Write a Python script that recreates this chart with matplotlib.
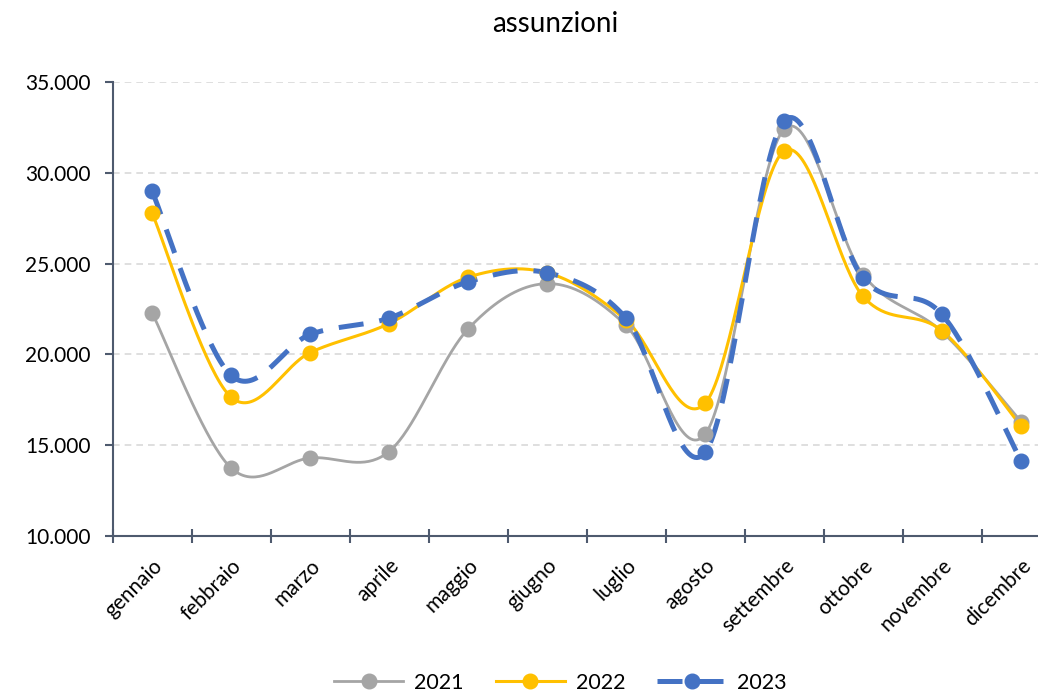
import numpy as np
import matplotlib.pyplot as plt
from matplotlib.lines import Line2D

plt.rcParams['font.family'] = ['Lato', 'DejaVu Sans']

mesi = ['gennaio', 'febbraio', 'marzo', 'aprile', 'maggio', 'giugno',
        'luglio', 'agosto', 'settembre', 'ottobre', 'novembre', 'dicembre']
anni = ['2021', '2022', '2023']
v2021 = [22300, 13750, 14300, 14650, 21400, 23900, 21600, 15600, 32400, 24400, 21250, 16300]
v2022 = [27800, 17650, 20100, 21700, 24250, 24500, 21900, 17300, 31200, 23200, 21300, 16050]
v2023 = [29000, 18850, 21100, 22000, 24000, 24500, 22000, 14600, 32850, 24200, 22200, 14150]

colori = ['#A5A5A5', '#FFC000', '#4472C4']


def smooth(x, y, n=40):
    # bezier smoothing like spreadsheet "smoothed line"
    x = np.asarray(x, float)
    y = np.asarray(y, float)
    px = np.concatenate([[x[0]], x, [x[-1]]])
    py = np.concatenate([[y[0]], y, [y[-1]]])
    t = np.linspace(0, 1, n)
    xs, ys = [], []
    for i in range(len(x) - 1):
        p0 = np.array([px[i + 1], py[i + 1]])
        p3 = np.array([px[i + 2], py[i + 2]])
        c1 = p0 + (p3 - np.array([px[i], py[i]])) / 6
        c2 = p3 - (np.array([px[i + 3], py[i + 3]]) - p0) / 6
        b = ((1 - t) ** 3)[:, None] * p0 + (3 * (1 - t) ** 2 * t)[:, None] * c1 \
            + (3 * (1 - t) * t ** 2)[:, None] * c2 + (t ** 3)[:, None] * p3
        xs.append(b[:, 0])
        ys.append(b[:, 1])
    return np.concatenate(xs), np.concatenate(ys)


fig = plt.figure(figsize=(10.38, 6.92), dpi=100)
ax = fig.add_axes([0.1084, 0.2254, 0.9133, 0.656])

x = np.arange(len(mesi))
serie = [v2021, v2022, v2023]
stili = [dict(lw=2.0, ls='-'), dict(lw=2.2, ls='-'), dict(lw=3.6, ls=(0, (5, 3.2)))]
handles = []
for vals, col, st, nome in zip(serie, colori, stili, anni):
    sx, sy = smooth(x, vals)
    ax.plot(sx, sy, color=col, lw=st['lw'], ls=st['ls'], zorder=3)
    ax.plot(x, vals, 'o', color=col, ms=10.5, zorder=4)
    handles.append(Line2D([], [], color=col, lw=st['lw'], ls=st['ls'],
                          marker='o', ms=10.5, label=nome))

ax.set_xlim(-0.5, 11.5)
ax.set_ylim(10000, 35000)
ax.set_yticks(np.arange(10000, 35001, 5000))
ax.set_yticklabels([f'{v:,}'.replace(',', '.') for v in range(10000, 35001, 5000)])
ax.set_xticks(x)
ax.set_xticklabels(mesi, rotation=45, ha='right', rotation_mode='anchor')
ax.set_xticks(np.arange(-0.5, 12, 1), minor=True)
ax.tick_params(axis='x', which='major', length=0, labelsize=15, pad=14)
ax.tick_params(axis='x', which='minor', length=10, direction='inout',
               color='#4E5A6E', width=1.5)
ax.tick_params(axis='y', length=6, color='#4E5A6E', width=1.5, labelsize=15, pad=10)
ax.grid(axis='y', color='#D9D9D9', ls=(0, (4, 3)), lw=1.2)
for s in ['top', 'right']:
    ax.spines[s].set_visible(False)
for s in ['left', 'bottom']:
    ax.spines[s].set_color('#4E5A6E')
    ax.spines[s].set_linewidth(1.5)

fig.text(0.535, 0.965, 'assunzioni', ha='center', va='center', fontsize=20)
fig.legend(handles=handles, loc='center', bbox_to_anchor=(0.54, 0.013), ncol=3,
           frameon=False, fontsize=15.5, handlelength=3.2, columnspacing=1.5,
           handletextpad=0.5)

fig.savefig('out.png', dpi=100)
